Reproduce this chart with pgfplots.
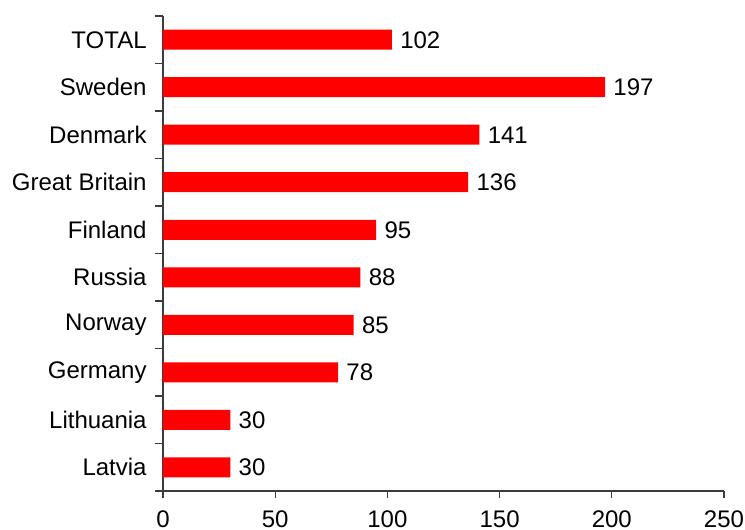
\documentclass[border=0pt]{standalone}
\usepackage{fontspec}
\setmainfont{Liberation Sans}
\usepackage{pgfplots}
\pgfplotsset{compat=1.18}
\definecolor{barred}{RGB}{255,0,0}
\definecolor{axisgray}{RGB}{60,60,60}

\begin{document}
\fontsize{12}{14}\selectfont
\begin{tikzpicture}[x=1pt,y=1pt]
    \begin{axis}[
            scale only axis,
            width=280.5pt,
            height=237.5pt,
            xbar,
            bar width=10pt,
            xmin=0, xmax=250,
            ymin=-0.5, ymax=9.5,
            y dir=reverse,
            axis lines*=left,
            axis line style={axisgray, line width=0.6pt},
            xtick={0,50,...,250},
            ytick={0,...,9},
            yticklabels={TOTAL,Sweden,Denmark,Great Britain,Finland,Russia,Norway,Germany,Lithuania,Latvia},
            minor ytick={-0.5,0.5,...,9.5},
            tick align=outside,
            major tick length=3.5pt,
            minor tick length=4pt,
            every tick/.style={axisgray, line width=0.6pt},
            every major y tick/.style={draw=none},
            /pgf/number format/assume math mode=true,
            tick label style={font=\fontsize{12}{14}\selectfont},
            xticklabel style={yshift=-2pt},
            yticklabel style={xshift=-0.5pt},
            nodes near coords,
            every node near coord/.append style={font=\fontsize{12}{14}\selectfont, anchor=west, xshift=0pt},
            point meta=explicit symbolic,
        ]
        \addplot[fill=barred, draw=none] coordinates {
                (102,0) [102]
                (197,1) [197]
                (141,2) [141]
                (136,3) [136]
                (95,4) [95]
                (88,5) [88]
                (85,6) [85]
                (78,7) [78]
                (30,8) [30]
                (30,9) [30]
            };
        \coordinate (sw) at (rel axis cs:0,0);
        \coordinate (ne) at (rel axis cs:1,1);
    \end{axis}
    \pgfresetboundingbox
    \path ([shift={(-81.5pt,-19.5pt)}]sw) rectangle ([shift={(10.5pt,8pt)}]ne);
\end{tikzpicture}
\end{document}
